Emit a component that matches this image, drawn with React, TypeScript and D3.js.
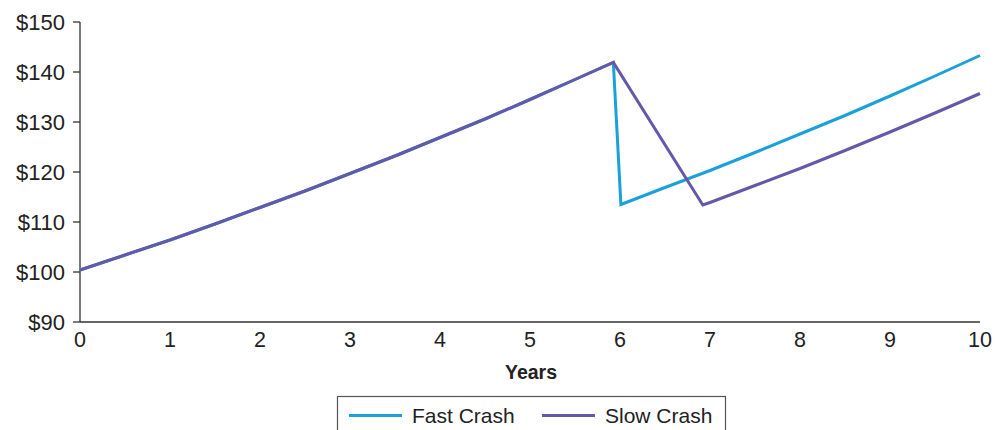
import React from "react";
import * as d3 from "d3";

const yTicks = [90, 100, 110, 120, 130, 140, 150];
const xTicks = [0, 1, 2, 3, 4, 5, 6, 7, 8, 9, 10];

const fastYears = [0, 0.5, 1, 1.5, 2, 2.5, 3, 3.5, 4, 4.5, 5, 5.5, 5.926, 6.01, 6.5, 7, 7.5, 8, 8.5, 9, 9.5, 10];
const fastValues = [100.4, 103.4, 106.4, 109.6, 112.9, 116.2, 119.7, 123.2, 126.9, 130.6, 134.5, 138.5, 141.9, 113.5, 116.9, 120.3, 123.9, 127.6, 131.3, 135.2, 139.2, 143.3];

const slowYears = [0, 0.5, 1, 1.5, 2, 2.5, 3, 3.5, 4, 4.5, 5, 5.5, 5.926, 6.92, 7, 7.5, 8, 8.5, 9, 9.5, 10];
const slowValues = [100.4, 103.4, 106.4, 109.6, 112.9, 116.2, 119.7, 123.2, 126.9, 130.6, 134.5, 138.5, 141.9, 113.4, 113.9, 117.3, 120.7, 124.3, 128.0, 131.8, 135.7];

const seriesNames = ["Fast Crash", "Slow Crash"];
const colors = ["#1ba1da", "#6558a8"];

export default function App() {
  const x = d3.scaleLinear().domain([0, 10]).range([80, 980]);
  const y = d3.scaleLinear().domain([90, 150]).range([322, 22]);
  const line = d3
    .line<[number, number]>()
    .x((d) => x(d[0]))
    .y((d) => y(d[1]));
  const fast = fastYears.map((t, i) => [t, fastValues[i]] as [number, number]);
  const slow = slowYears.map((t, i) => [t, slowValues[i]] as [number, number]);
  const font = "'Liberation Sans', Arial, sans-serif";
  const axisColor = "#333";
  return (
    <svg
      width={996}
      height={430}
      style={{ position: "absolute", left: 0, top: 0, background: "#fff" }}
      fontFamily={font}
    >
      {/* y axis */}
      <line x1={80} x2={80} y1={y(150)} y2={y(90)} stroke={axisColor} strokeWidth={1.3} />
      {yTicks.map((t) => (
        <g key={t}>
          <line x1={73} x2={80} y1={y(t)} y2={y(t)} stroke={axisColor} strokeWidth={1.3} />
          <text x={65} y={y(t)} dy="0.36em" textAnchor="end" fontSize={22} fill="#222">
            {"$" + t}
          </text>
        </g>
      ))}
      {/* x axis */}
      <line x1={x(0)} x2={x(10)} y1={y(90)} y2={y(90)} stroke={axisColor} strokeWidth={1.3} />
      {xTicks.map((t) => (
        <text key={t} x={x(t)} y={347} textAnchor="middle" fontSize={21.5} fill="#222">
          {t}
        </text>
      ))}
      <text x={531} y={379} textAnchor="middle" fontSize={19.5} fontWeight="bold" fill="#222">
        Years
      </text>
      {/* lines */}
      <path d={line(fast) || ""} fill="none" stroke={colors[0]} strokeWidth={3} strokeLinejoin="miter" />
      <path d={line(slow) || ""} fill="none" stroke={colors[1]} strokeWidth={3} strokeLinejoin="miter" />
      {/* legend */}
      <rect x={337.5} y={396.5} width={388} height={50} fill="#fff" stroke="#555" strokeWidth={1.2} />
      <line x1={349} x2={402} y1={415.5} y2={415.5} stroke={colors[0]} strokeWidth={3} />
      <text x={412} y={423} fontSize={21} fill="#222">
        {seriesNames[0]}
      </text>
      <line x1={542} x2={595} y1={415.5} y2={415.5} stroke={colors[1]} strokeWidth={3} />
      <text x={605} y={423} fontSize={21} fill="#222">
        {seriesNames[1]}
      </text>
    </svg>
  );
}
